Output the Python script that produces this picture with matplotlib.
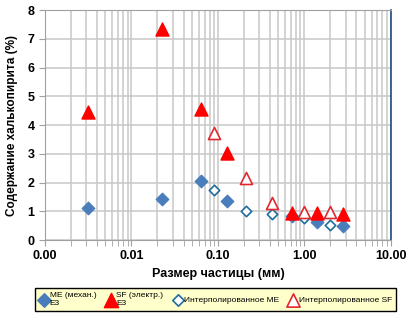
import matplotlib
matplotlib.use('Agg')
import matplotlib.pyplot as plt
from matplotlib.ticker import LogLocator, FuncFormatter, NullFormatter

plt.rcParams['font.family'] = ['Liberation Sans', 'DejaVu Sans']

# размер частицы (мм) и содержание (%)
me_x = [0.00314, 0.0225, 0.0635, 0.127, 0.71, 1.4, 2.8]
me_y = [1.13, 1.42, 2.05, 1.37, 0.85, 0.63, 0.48]
sf_x = [0.00314, 0.0225, 0.0635, 0.127, 0.71, 1.4, 2.8]
sf_y = [4.45, 7.35, 4.55, 3.02, 0.95, 0.95, 0.92]
me_int_x = [0.09, 0.212, 0.425, 1.0, 2.0]
me_int_y = [1.74, 1.0, 0.9, 0.75, 0.53]
sf_int_x = [0.09, 0.212, 0.425, 1.0, 2.0]
sf_int_y = [3.72, 2.15, 1.3, 0.97, 0.97]

fig = plt.figure(figsize=(4.11, 3.26), dpi=100)
ax = fig.add_axes([0.1095, 0.2638, 0.8415, 0.7052])

ax.scatter(me_x, me_y, marker='D', s=40, color='#4A7EBB', zorder=3,
           label='ME (механ.)\nE3')
ax.scatter(sf_x, sf_y, marker='^', s=88, color='#FF0000', zorder=4,
           label='SF (электр.)\nE3')
ax.scatter(me_int_x, me_int_y, marker='D', s=28, facecolor='white',
           edgecolor='#1F6E9E', linewidth=1.2, zorder=3, label='Интерполированное ME')
ax.scatter(sf_int_x, sf_int_y, marker='^', s=75, facecolor='white',
           edgecolor='#E0282E', linewidth=1.2, zorder=3, label='Интерполированное SF')

ax.set_xscale('log')
ax.set_xlim(0.001, 10)
ax.set_ylim(0, 8)
ax.xaxis.set_major_locator(LogLocator(base=10))
ax.xaxis.set_minor_locator(LogLocator(base=10, subs=range(2, 10)))
ax.xaxis.set_major_formatter(FuncFormatter(lambda v, p: '%.2f' % v))
ax.xaxis.set_minor_formatter(NullFormatter())
ax.set_yticks(range(0, 9))

ax.grid(True, which='both', axis='x', color='#C8C8C8', linewidth=1.1)
ax.grid(True, which='major', axis='y', color='#C8C8C8', linewidth=1.1)
ax.set_axisbelow(True)

for s in ['left', 'bottom', 'top']:
    ax.spines[s].set_color('#A0A0A0')
ax.spines['right'].set_color('#1F4E79')
ax.spines['right'].set_linewidth(1.2)
ax.tick_params(axis='both', which='both', color='#A0A0A0', length=4)
ax.tick_params(labelsize=9)
for lab in ax.get_xticklabels() + ax.get_yticklabels():
    lab.set_fontweight('bold')

ax.set_xlabel('Размер частицы (мм)', fontsize=9, fontweight='bold', labelpad=4)
ax.set_ylabel('Содержание халькопирита (%)', fontsize=8.5, fontweight='bold', labelpad=7)

leg = fig.legend(loc='lower left', bbox_to_anchor=(0.075, 0.034, 0.898, 0.083),
                 mode='expand', ncol=4, fontsize=6, frameon=True, fancybox=False,
                 handletextpad=0.1, columnspacing=0.6, borderpad=0.45, handlelength=1.2,
                 scatterpoints=1, markerscale=1.1)
leg.get_frame().set_facecolor('#FFFFCC')
leg.get_frame().set_edgecolor('black')
leg.get_frame().set_linewidth(1.0)
leg.get_frame().set_alpha(1)

fig.savefig('out.png', dpi=100)
